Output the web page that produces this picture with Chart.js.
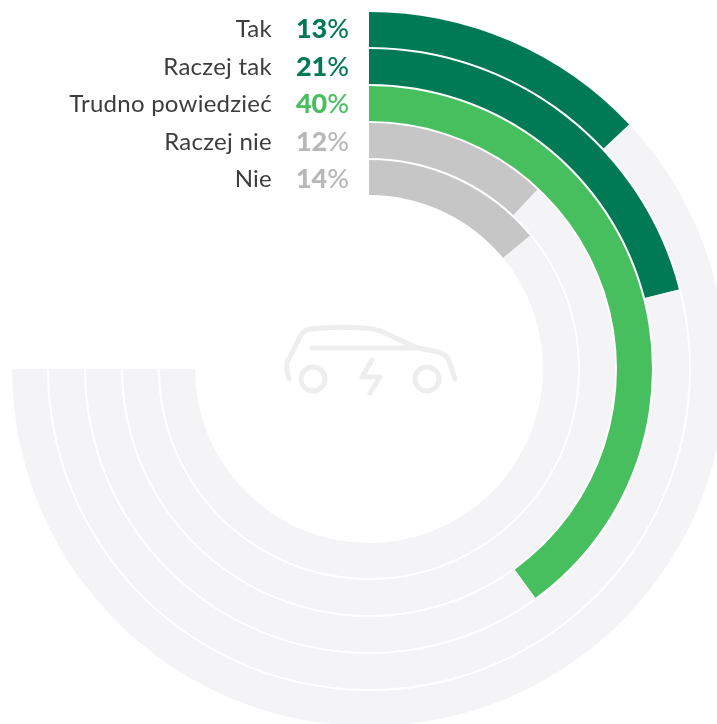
<!DOCTYPE html>
<html lang="pl">
<head>
<meta charset="utf-8">
<title>Wykres</title>
<script src="https://cdn.jsdelivr.net/npm/chart.js@4"></script>
<style>
html, body { margin: 0; height: 100%; background: #fff; overflow: hidden; }
#wrap { position: relative; width: 717px; height: 724px; overflow: hidden; }
#chart { position: absolute; left: 12px; top: 12px; }
#car { position: absolute; left: 0; top: 0; }
.row { position: absolute; height: 37px; line-height: 37px; font-family: Lato, sans-serif; white-space: nowrap; }
.label { right: 445px; font-size: 24px; letter-spacing: 0.25px; color: #3d3d3d; }
.value { right: 368px; font-size: 27px; font-weight: 900; }
.value span { font-weight: 500; }
</style>
</head>
<body>
<div id="wrap">
    <canvas id="chart" width="714" height="714"></canvas>
    <svg id="car" width="717" height="724" fill="none" stroke="#eeeeee" stroke-width="5" stroke-linecap="round" stroke-linejoin="round">
        <path d="M289 379 C286 371 286 362 289 358 C293 352 297 342 301 335 C303 331 306 330 310 329 C325 327 350 327 365 328 C372 328 377 330 383 332 C393 336 405 343 415 347 C423 350 436 350 443 354 C447 356 449 360 450 364 L455 379"/>
        <path d="M312 348 H415"/>
        <circle cx="313" cy="379" r="12"/>
        <circle cx="427" cy="379" r="12"/>
        <path d="M372 360 L362 377 H380 L370 393"/>
    </svg>
</div>
<script>
const categories = ['Tak', 'Raczej tak', 'Trudno powiedzieć', 'Raczej nie', 'Nie'];
const values = [13, 21, 40, 12, 14];
const barColors = ['#007a55', '#007a55', '#47bf5f', '#c6c6c6', '#c6c6c6'];
const valueColors = ['#007a55', '#007a55', '#47bf5f', '#b8b8b8', '#b8b8b8'];
const trackColor = '#f4f4f6';
const trackTotal = 75; // the rings stop at 3/4 of a circle

function buildDatasets() {
    const datasets = [];
    values.forEach(function (v, i) {
        datasets.push({
            label: categories[i],
            data: [v, trackTotal - v],
            backgroundColor: [barColors[i], trackColor],
            borderWidth: 0,
            weight: 35
        });
        // thin empty ring keeps the white line between the rings
        if (i < values.length - 1) {
            datasets.push({
                data: [trackTotal],
                backgroundColor: ['rgba(0,0,0,0)'],
                borderWidth: 0,
                weight: 2
            });
        }
    });
    return datasets;
}

new Chart(document.getElementById('chart').getContext('2d'), {
    type: 'doughnut',
    data: {
        labels: ['value', 'rest'],
        datasets: buildDatasets()
    },
    options: {
        responsive: false,
        animation: false,
        cutout: 174,
        rotation: 0,
        circumference: 270,
        plugins: {
            legend: { display: false },
            tooltip: { enabled: false }
        }
    }
});

// labels left of the rings
const wrap = document.getElementById('wrap');
categories.forEach(function (name, i) {
    const top = (9 + i * 37.5) + 'px';
    const label = document.createElement('div');
    label.className = 'row label';
    label.style.top = top;
    label.textContent = name;
    wrap.appendChild(label);

    const value = document.createElement('div');
    value.className = 'row value';
    value.style.top = top;
    value.style.color = valueColors[i];
    value.innerHTML = values[i] + '<span>%</span>';
    wrap.appendChild(value);
});
</script>
</body>
</html>
